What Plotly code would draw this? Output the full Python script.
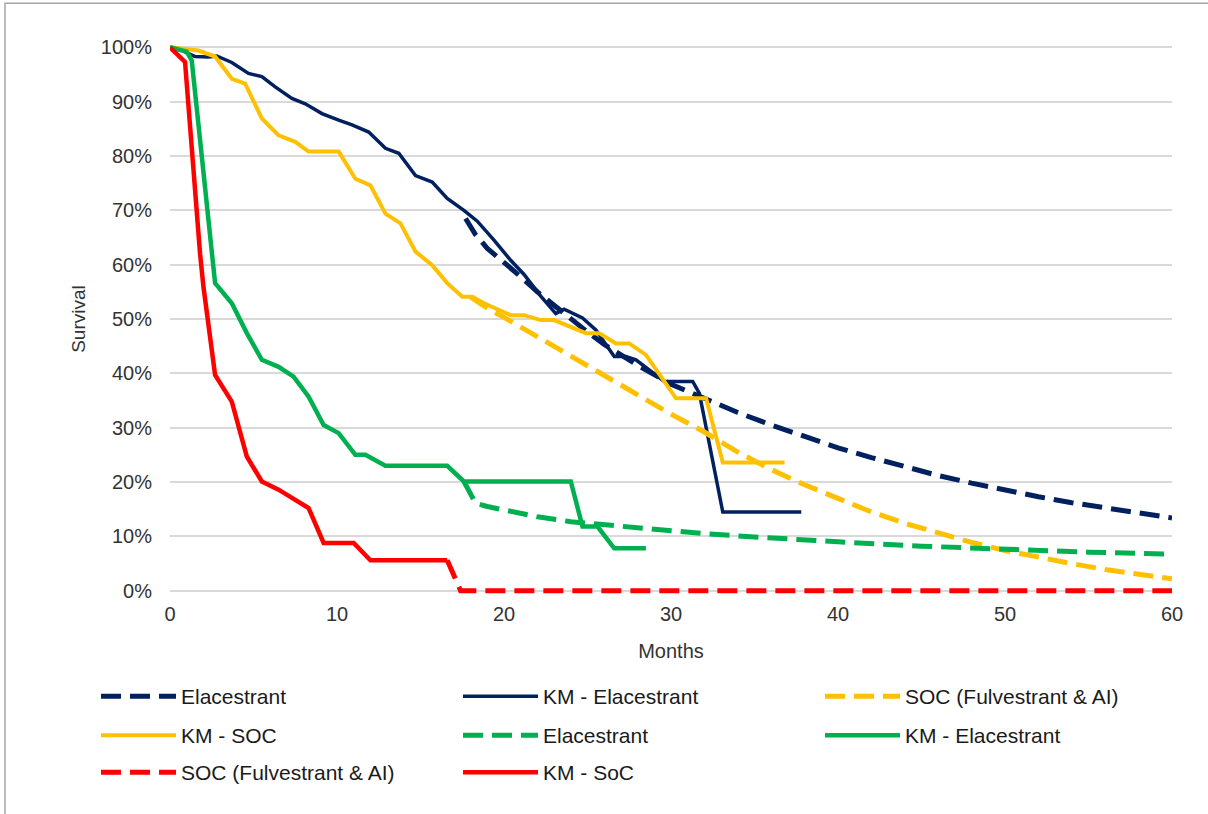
import plotly.graph_objects as go

# ---------------- data (months, survival %) ----------------
fit_ela_x = [17.7, 18.3, 19, 20, 21, 22, 23, 24, 25, 26, 28, 30, 32, 34, 36, 38, 40, 42, 44, 46, 48, 50, 52, 54, 56, 58, 60]
fit_ela_y = [68.5, 65.5, 63, 60.5, 57.8, 55, 52.5, 50, 47.6, 45.3, 41.5, 38, 35.3, 32.8, 30.5, 28.4, 26.3, 24.5, 22.8, 21.2, 19.8, 18.5, 17.3, 16.2, 15.2, 14.3, 13.4]

km_ela_x = [0, 0.8, 1.5, 2.3, 2.8, 3.7, 4.7, 5.5, 6.3, 7.3, 8.1, 9.1, 10.1, 10.9, 11.9, 12.9, 13.7, 14.7, 15.7, 16.6, 17.6, 18.4, 19.4, 20.4, 21.2, 22.2, 23.1, 23.6, 24.7, 25.5, 26.6, 27.3, 27.9, 28.7, 29.6, 30.5, 31.3, 31.7, 33.1, 37.8]
km_ela_y = [100, 99.3, 98.3, 98.2, 98.4, 97.2, 95.2, 94.6, 92.7, 90.6, 89.6, 87.8, 86.6, 85.7, 84.4, 81.4, 80.5, 76.4, 75.2, 72.2, 70.0, 68.0, 64.5, 60.8, 58.2, 54.2, 51.0, 51.8, 50.2, 48.0, 43.1, 43.1, 42.5, 40.6, 38.5, 38.5, 38.5, 36.3, 14.5, 14.5]

fit_soc_x = [18, 19, 20, 21, 22, 23, 24, 25, 26, 28, 30, 32, 34, 36, 38, 40, 42, 44, 46, 48, 50, 52, 54, 56, 58, 60]
fit_soc_y = [54, 52, 50.3, 48.5, 46.8, 45, 43.3, 41.5, 39.7, 36, 32.5, 29.2, 25.5, 22.3, 19.5, 17, 14.5, 12.4, 10.6, 8.9, 7.4, 6.1, 5.0, 3.9, 3.0, 2.2]

km_soc_x = [0, 1.7, 2.7, 3.7, 4.5, 5.5, 6.5, 7.5, 8.3, 10.1, 11.1, 12.0, 12.9, 13.8, 14.7, 15.7, 16.6, 17.5, 18.1, 18.8, 20.4, 21.2, 22.2, 23.0, 24.9, 25.7, 26.7, 27.5, 28.5, 29.5, 30.3, 32.1, 33.1, 36.8]
km_soc_y = [100, 99.4, 98.3, 94.2, 93.3, 86.9, 83.8, 82.6, 80.8, 80.8, 75.8, 74.6, 69.4, 67.6, 62.4, 59.9, 56.6, 54.1, 54.1, 52.9, 50.7, 50.7, 49.8, 49.8, 47.4, 47.4, 45.5, 45.5, 43.4, 38.8, 35.4, 35.4, 23.6, 23.6]

fit_ela2_x = [17.6, 18.3, 19, 20, 22, 24, 26, 28, 30, 32, 35, 38, 40, 45, 50, 55, 60]
fit_ela2_y = [20.1, 16.1, 15.5, 14.9, 13.6, 12.7, 12.1, 11.5, 11.0, 10.5, 9.9, 9.3, 9.0, 8.2, 7.6, 7.1, 6.7]

km_ela2_x = [0, 1.0, 1.3, 2.7, 3.7, 4.6, 5.5, 6.5, 7.4, 8.3, 9.2, 10.1, 11.1, 11.7, 12.9, 16.6, 17.6, 24.0, 24.7, 25.6, 26.6, 28.5]
km_ela2_y = [100, 99.2, 97.6, 56.6, 52.9, 47.4, 42.5, 41.2, 39.4, 35.7, 30.5, 29.0, 25.0, 25.0, 23.0, 23.0, 20.1, 20.1, 11.8, 11.8, 7.8, 7.8]

fit_soc2_x = [16.6, 17.4, 20, 30, 40, 50, 60]
fit_soc2_y = [5.6, 0, 0, 0, 0, 0, 0]

km_soc2_x = [0, 0.9, 1.8, 2.0, 2.7, 3.7, 4.6, 5.5, 6.5, 7.4, 8.3, 9.2, 11.0, 12.0, 16.6]
km_soc2_y = [100, 97.3, 62, 56, 39.7, 34.8, 24.7, 20.1, 18.6, 17.0, 15.2, 8.8, 8.8, 5.6, 5.6]

x_ticks = [0, 10, 20, 30, 40, 50, 60]
y_ticks = [0, 10, 20, 30, 40, 50, 60, 70, 80, 90, 100]

NAVY = "#002060"
YELLOW = "#FFC000"
GREEN = "#00B050"
RED = "#FF0000"
DASH = "20px,9px"

series = [
    ("Elacestrant", fit_ela_x, fit_ela_y, NAVY, DASH, 5, "legend"),
    ("KM - Elacestrant", km_ela_x, km_ela_y, NAVY, "solid", 3.5, "legend"),
    ("SOC (Fulvestrant & AI)", fit_soc_x, fit_soc_y, YELLOW, DASH, 5, "legend"),
    ("KM - SOC", km_soc_x, km_soc_y, YELLOW, "solid", 4, "legend2"),
    ("Elacestrant", fit_ela2_x, fit_ela2_y, GREEN, DASH, 5, "legend2"),
    ("KM - Elacestrant", km_ela2_x, km_ela2_y, GREEN, "solid", 4.5, "legend2"),
    ("SOC (Fulvestrant & AI)", fit_soc2_x, fit_soc2_y, RED, DASH, 5, "legend3"),
    ("KM - SoC", km_soc2_x, km_soc2_y, RED, "solid", 4.5, "legend3"),
]

fig = go.Figure()
for name, xs, ys, col, dash, w, lg in series:
    fig.add_trace(go.Scatter(
        x=xs, y=[v / 100 for v in ys], mode="lines", name=name,
        line=dict(color=col, width=w, dash=dash),
        legend=lg, hoverinfo="skip",
    ))

FONT = "Liberation Sans, Arial, sans-serif"
TXT = "#333333"

# pixel geometry of the plotting area
PAD = 0.006
PLOT_L, PLOT_R = 170, 1172
Y100, Y0 = 47, 591
UNIT = (Y0 - Y100)            # pixels per 1.0
TOP = Y100 - PAD * UNIT
BOT = Y0 + PAD * UNIT
PH = BOT - TOP

def py(pix):
    return (BOT - pix) / PH

def px(pix):
    return (pix - PLOT_L) / (PLOT_R - PLOT_L)

def leg(ypix):
    return dict(orientation="h", x=px(96), y=py(ypix), xanchor="left", yanchor="middle",
                entrywidth=272, entrywidthmode="pixels", itemwidth=75,
                font=dict(family=FONT, size=21, color="#1a1a1a"),
                bgcolor="rgba(0,0,0,0)", traceorder="normal")

fig.update_layout(
    width=1208, height=814,
    margin=dict(l=PLOT_L, r=1208 - PLOT_R, t=TOP, b=814 - BOT),
    paper_bgcolor="white", plot_bgcolor="white",
    font=dict(family=FONT, size=20, color=TXT),
    showlegend=True,
    legend=leg(697),
    legend2=leg(736),
    legend3=leg(773),
    xaxis=dict(range=[0, 60], tickvals=x_ticks, ticktext=[str(v) for v in x_ticks],
               showgrid=False, zeroline=False, showline=False, ticks="",
               ticklabelstandoff=6,
               title=dict(text="Months", font=dict(size=20, color=TXT), standoff=19),
               tickfont=dict(size=20, color=TXT)),
    yaxis=dict(range=[-PAD, 1 + PAD], tickvals=[v / 100 for v in y_ticks],
               ticktext=[f"{v}%" for v in y_ticks],
               showgrid=True, gridcolor="#d9d9d9", gridwidth=2, zeroline=False,
               showline=False, ticks="", ticklabelstandoff=17,
               title=dict(text="Survival", font=dict(size=19, color=TXT), standoff=10),
               tickfont=dict(size=20, color=TXT)),
    shapes=[dict(type="rect", xref="paper", yref="paper",
                 x0=px(5), x1=px(1260), y0=py(860), y1=py(3),
                 line=dict(color="#a6a6a6", width=1.5), layer="below")],
)

fig.write_html("out.html", config={"displayModeBar": False},
               post_script="document.body.style.margin='0px';")
